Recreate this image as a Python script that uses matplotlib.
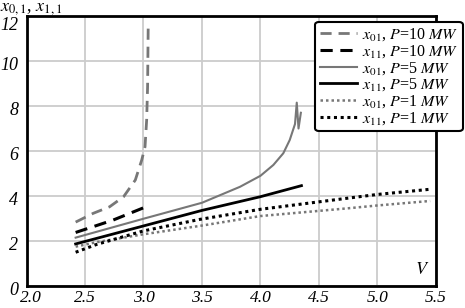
import matplotlib.pyplot as plt
import matplotlib.transforms as mtransforms

plt.rcParams['font.family'] = ['Liberation Serif', 'DejaVu Serif']
plt.rcParams['mathtext.fontset'] = 'stix'

# x01, P=10 MW
v01_10 = [2.42, 2.57, 2.71, 2.83, 2.93, 2.985, 3.013, 3.027, 3.035, 3.04]
x01_10 = [2.84, 3.23, 3.52, 3.97, 4.71, 5.6, 6.19, 7.38, 8.86, 11.45]
# x11, P=10 MW
v11_10 = [2.42, 2.74, 3.04]
x11_10 = [2.38, 2.93, 3.56]
# x01, P=5 MW
v01_5 = [2.42, 3.0, 3.5, 3.825, 4.0, 4.11, 4.195, 4.25, 4.295, 4.31, 4.325, 4.345]
x01_5 = [2.15, 2.99, 3.7, 4.41, 4.9, 5.38, 5.9, 6.49, 7.2, 8.15, 7.0, 7.7]
# x11, P=5 MW
v11_5 = [2.42, 3.0, 3.5, 4.0, 4.35]
x11_5 = [1.87, 2.67, 3.36, 3.97, 4.46]
# x01, P=1 MW
v01_1 = [2.42, 2.6, 3.0, 3.48, 4.0, 4.74, 5.0, 5.45]
x01_1 = [1.75, 1.95, 2.3, 2.67, 3.11, 3.45, 3.58, 3.78]
# x11, P=1 MW
v11_1 = [2.42, 2.6, 3.0, 3.48, 4.0, 4.74, 5.0, 5.45]
x11_1 = [1.5, 1.85, 2.45, 2.96, 3.41, 3.9, 4.07, 4.3]

xticks = [2.0, 2.5, 3.0, 3.5, 4.0, 4.5, 5.0, 5.5]
yticks = [0, 2, 4, 6, 8, 10, 12]

fig = plt.figure(figsize=(4.65, 3.08), dpi=100)
ax = fig.add_axes([0.057, 0.0714, 0.8806, 0.8766])

gray = '#777777'
ax.plot(v01_10, x01_10, color=gray, lw=2, ls=(0, (4, 2.5)), label=r'$x_{01}$, $P$=10 $MW$')
ax.plot(v11_10, x11_10, color='black', lw=2.2, ls=(0, (4, 2.5)), label=r'$x_{11}$, $P$=10 $MW$')
ax.plot(v01_5, x01_5, color=gray, lw=1.5, label=r'$x_{01}$, $P$=5 $MW$')
ax.plot(v11_5, x11_5, color='black', lw=2, label=r'$x_{11}$, $P$=5 $MW$')
ax.plot(v01_1, x01_1, color=gray, lw=1.8, ls=(0, (1, 1.2)), label=r'$x_{01}$, $P$=1 $MW$')
ax.plot(v11_1, x11_1, color='black', lw=2.2, ls=(0, (1, 1.2)), label=r'$x_{11}$, $P$=1 $MW$')

ax.set_xlim(2.0, 5.5)
ax.set_ylim(0, 12)
ax.set_xticks(xticks)
ax.set_yticks(yticks)
ax.set_xticklabels(['%.1f' % t for t in xticks], fontstyle='italic', fontsize=12.5)
ax.set_yticklabels([str(t) for t in yticks], fontstyle='italic', fontsize=13)
ax.tick_params(axis='x', length=0, pad=3)
ax.tick_params(axis='y', length=0, pad=6)
ax.grid(True, color='#cccccc', lw=1.3)
for s in ax.spines.values():
    s.set_linewidth(2)
    s.set_color('black')

# nudge edge labels like the original
xl = ax.get_xticklabels()
xl[0].set_transform(xl[0].get_transform() + mtransforms.ScaledTranslation(4/100, 0, fig.dpi_scale_trans))
for lab in ax.get_yticklabels():
    lab.set_transform(lab.get_transform() + mtransforms.ScaledTranslation(0, -2/100, fig.dpi_scale_trans))
yl = ax.get_yticklabels()
yl[-1].set_transform(yl[-1].get_transform() + mtransforms.ScaledTranslation(0, -5/100, fig.dpi_scale_trans))

fig.text(0.0, 1.0, r'$x_{0,1}$, $x_{1,1}$', fontsize=13, va='top', ha='left')
ax.text(0.985, 0.03, r'$V$', transform=ax.transAxes, fontsize=13, ha='right', va='bottom')

leg = ax.legend(loc='upper right', bbox_to_anchor=(0.995, 0.93), bbox_transform=fig.transFigure,
                fontsize=11.5, handlelength=2.3, handletextpad=0.3, labelspacing=0.0,
                borderpad=0.3, fancybox=True, framealpha=1, borderaxespad=0)
leg.get_frame().set_edgecolor('black')
leg.get_frame().set_linewidth(1.5)

plt.savefig('out.png', dpi=100)
